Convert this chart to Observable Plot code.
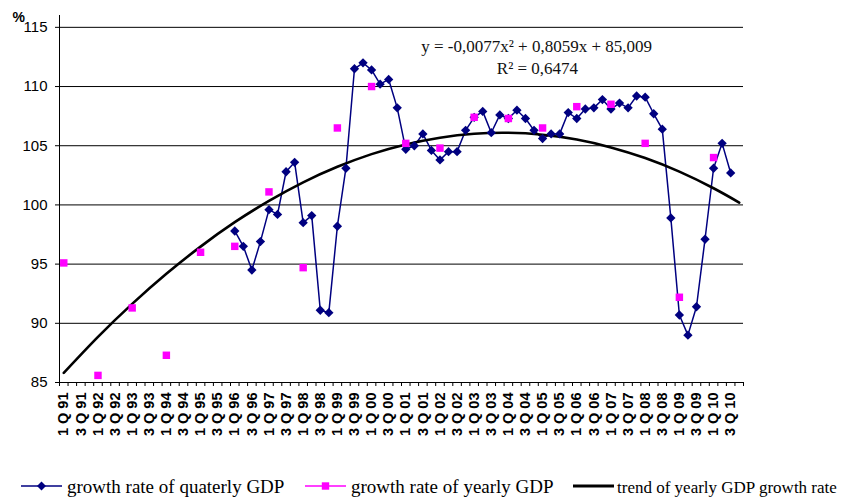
<!DOCTYPE html>
<html><head><meta charset="utf-8">
<script src="https://cdn.jsdelivr.net/npm/d3@7"></script>
<script src="https://cdn.jsdelivr.net/npm/@observablehq/plot@0.6"></script>
<style>
body{margin:0;background:#fff;}
#chart{width:846px;height:503px;overflow:hidden;background:#fff;}
#chart svg{display:block;}
</style></head><body>
<div id="chart"></div>
<script>
// ---- data ----
const years = ["91","92","93","94","95","96","97","98","99","00","01","02","03","04","05","06","07","08","09","10"];
const quarterNames = ["1 Q ","2 Q ","3 Q ","4 Q "];
const quarterLabels = years.flatMap(y => quarterNames.map(q => q + y));
const shownLabels = quarterLabels.filter((d, i) => i % 2 === 0);

// growth rate of quarterly GDP, 1 Q 96 .. 3 Q 10
const quarterlyStart = "1 Q 96";
const quarterlyGDP = [
  97.8, 96.5, 94.5, 96.9,
  99.6, 99.2, 102.8, 103.6,
  98.5, 99.1, 91.1, 90.9,
  98.2, 103.1, 111.5, 112.0,
  111.4, 110.2, 110.6, 108.2,
  104.7, 105.0, 106.0, 104.6,
  103.8, 104.5, 104.5, 106.3,
  107.4, 107.9, 106.1, 107.6,
  107.3, 108.0, 107.3, 106.3,
  105.6, 106.0, 106.0, 107.8,
  107.3, 108.1, 108.2, 108.9,
  108.1, 108.6, 108.2, 109.2,
  109.1, 107.7, 106.4, 98.9,
  90.7, 89.0, 91.4, 97.1,
  103.1, 105.2, 102.7
];

// growth rate of yearly GDP, plotted at 1 Q of each year
const yearlyQuarters = years.map(y => "1 Q " + y);
const yearlyGDP = [95.1, 85.6, 91.3, 87.3, 96.0, 96.5, 101.1, 94.7, 106.5, 110.0,
                   105.2, 104.8, 107.4, 107.3, 106.5, 108.3, 108.5, 105.2, 92.2, 104.0];

// trend of yearly GDP growth rate
const trendQuarters = [...yearlyQuarters, "4 Q 10"];
const trendGDP = [85.81, 88.85, 91.64, 94.18, 96.48, 98.54, 100.34, 101.91, 103.22, 104.29,
                  105.11, 105.68, 106.01, 106.09, 105.93, 105.52, 104.86, 103.96, 102.81, 101.41, 100.20];

const yTicks = [85, 90, 95, 100, 105, 110, 115];
const equationText = "y = -0,0077x² + 0,8059x + 85,009";
const r2Text = "R² = 0,6474";
const legendItems = [
  {label: "growth rate of quaterly GDP", color: "#000080", symbol: "diamond"},
  {label: "growth rate of yearly GDP", color: "#ff00ff", symbol: "square"},
  {label: "trend of yearly GDP growth rate", color: "#000000", symbol: "none"}
];

// ---- tables ----
const pos = q => quarterLabels.indexOf(q) + 0.5;
const q0 = quarterLabels.indexOf(quarterlyStart);
const quarterly = quarterlyGDP.map((v, k) => ({x: q0 + k + 0.5, v}));
const yearly = yearlyGDP.map((v, k) => ({x: pos(yearlyQuarters[k]), v}));
const trend = trendGDP.map((v, k) => ({x: pos(trendQuarters[k]), v}));

const sans = "'Liberation Sans', Arial, sans-serif";
const serif = "'Liberation Serif', 'Times New Roman', serif";

const plot = Plot.plot({
  width: 846, height: 445,
  marginLeft: 59, marginRight: 103, marginTop: 15, marginBottom: 63,
  x: {type: "linear", domain: [0, quarterLabels.length], axis: null},
  y: {domain: [85, 116], axis: null},
  style: {fontFamily: sans, background: "white", color: "black", overflow: "visible"},
  marks: [
    Plot.ruleY(yTicks.slice(1), {stroke: "#000", strokeWidth: 1}),
    Plot.axisY({ticks: yTicks, tickSize: 4, tickPadding: 8, fontSize: 15, label: null, anchor: "left"}),
    Plot.axisX({ticks: d3.range(0, quarterLabels.length + 1), tickSize: 4, tickFormat: () => "", label: null}),
    Plot.axisX({
      ticks: shownLabels.map(pos), tickSize: 0, tickPadding: 10, tickRotate: -90,
      tickFormat: v => quarterLabels[Math.floor(v)], fontSize: 14.5, fontWeight: "bold", label: null
    }),
    Plot.ruleY([85], {stroke: "#000", strokeWidth: 1}),
    Plot.ruleX([0], {y1: 85, y2: 116, stroke: "#000", strokeWidth: 1}),
    Plot.line(quarterly, {x: "x", y: "v", stroke: "#000080", strokeWidth: 1.5}),
    Plot.line(trend, {x: "x", y: "v", stroke: "#000", strokeWidth: 2.6, curve: "natural"}),
    Plot.dot(quarterly, {x: "x", y: "v", symbol: "diamond2", r: 4.2, fill: "#000080", stroke: "none"}),
    Plot.dot(yearly, {x: "x", y: "v", symbol: "square", r: 4.2, fill: "#ff00ff", stroke: "none"}),
    Plot.text([equationText], {x: 55.8, y: 112.9, text: d => d, lineAnchor: "bottom", fontFamily: serif, fontSize: 17, fill: "#111"}),
    Plot.text([r2Text], {x: 55.9, y: 111.05, text: d => d, lineAnchor: "bottom", fontFamily: serif, fontSize: 17, fill: "#111"}),
    Plot.text(["%"], {frameAnchor: "top-left", text: d => d, dx: -47, dy: 6, textAnchor: "start", lineAnchor: "bottom", fontSize: 14, fontWeight: "bold"})
  ]
});
document.getElementById("chart").appendChild(plot);

// ---- legend below the chart ----
const legendPos = [{x1: 21, x2: 62, tx: 67, fs: 19}, {x1: 305, x2: 346, tx: 351, fs: 19}, {x1: 573, x2: 614, tx: 617, fs: 17}];
const lg = d3.select("#chart").append("svg").attr("width", 846).attr("height", 58);
legendItems.forEach((it, k) => {
  const p = legendPos[k], cy = 41, cx = (p.x1 + p.x2) / 2;
  lg.append("line").attr("x1", p.x1).attr("x2", p.x2).attr("y1", cy).attr("y2", cy)
    .attr("stroke", it.color).attr("stroke-width", it.symbol === "none" ? 3 : 1.5);
  if (it.symbol === "diamond") lg.append("path").attr("d", `M${cx},${cy-4.5}L${cx+4.5},${cy}L${cx},${cy+4.5}L${cx-4.5},${cy}Z`).attr("fill", it.color);
  if (it.symbol === "square") lg.append("rect").attr("x", cx - 3.7).attr("y", cy - 3.7).attr("width", 7.4).attr("height", 7.4).attr("fill", it.color);
  lg.append("text").attr("x", p.tx).attr("y", 48).attr("font-family", serif).attr("font-size", p.fs).attr("fill", "#000").text(it.label);
});
</script>
</body></html>
